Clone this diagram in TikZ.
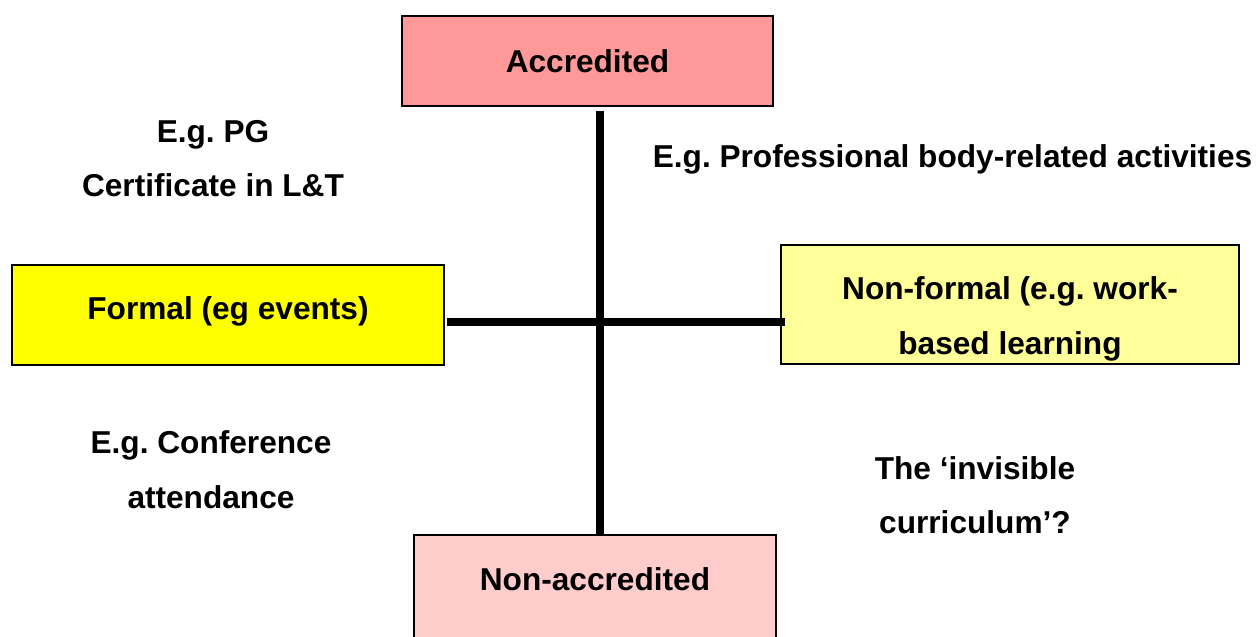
\documentclass[tikz,border=0pt]{standalone}
\usepackage{fontspec}
\setmainfont{Liberation Sans}
\usepackage{tikz}
\frenchspacing
\definecolor{rosepink}{RGB}{255, 153, 153}
\definecolor{palepink}{RGB}{255, 204, 204}
\definecolor{brightyellow}{RGB}{255, 255, 0}
\definecolor{paleyellow}{RGB}{255, 255, 153}
\tikzset{
    quadbox/.style={draw=black, line width=0.8pt, align=center, inner sep=0pt,
                    font=\fontsize{18}{31}\selectfont\bfseries},
    quadtext/.style={align=center, inner sep=0pt,
                     font=\fontsize{18}{31}\selectfont\bfseries},
    axisline/.style={line width=4pt}
}

\begin{document}
\begin{tikzpicture}
            % Frame to ensure alignment:
            \useasboundingbox                                                 (0.00, 0.00) rectangle (25.20,-12.72);
            \clip                                                             (0.00, 0.00) rectangle (25.20,-12.72);
            % Accredited / Non-accredited
            \node[quadbox, fill=rosepink,     minimum width=7.42cm, minimum height=1.80cm]
                 (accredited)    at (11.75,-1.22) {Accredited};
            \node[quadbox, fill=palepink,     minimum width=7.24cm, minimum height=2.20cm,
                  text height=0.50cm, text depth=0.50cm]
                 (nonaccredited) at (11.90,-11.80) {Non-accredited};
            % Formal / Non-formal
            \node[quadbox, fill=brightyellow, minimum width=8.64cm, minimum height=2.00cm,
                  text height=0.60cm, text depth=0.44cm]
                 (formal)        at ( 4.56,-6.30) {Formal (eg events)};
            \node[quadbox, fill=paleyellow,   minimum width=9.16cm, minimum height=2.38cm,
                  text height=1.98cm, text depth=0cm]
                 (nonformal)     at (20.20,-6.09) {Non-formal (e.g. work-\\based learning};
            % Axes
            \coordinate (cross) at (12.00,-6.44);
            \draw[axisline] ([yshift=-0.08cm]accredited.south -| cross) -- (nonaccredited.north -| cross);
            \draw[axisline] ([xshift= 0.04cm]formal.east |- cross)      -- ([xshift=0.10cm]nonformal.west |- cross);
            % Examples in each quadrant
            \node[quadtext] (pgcert)     at ( 4.26,-3.17) {E.g. PG\\Certificate in L\&T};
            \node[quadtext] (profbody)   at (19.05,-3.18) {E.g. Professional body-related activities};
            \node[quadtext] (conference) at ( 4.22,-9.39) {E.g. Conference\\attendance};
            \node[quadtext] (invisible)  at (19.50,-9.90) {The ‘invisible\\curriculum’?};
\end{tikzpicture}
\end{document}
